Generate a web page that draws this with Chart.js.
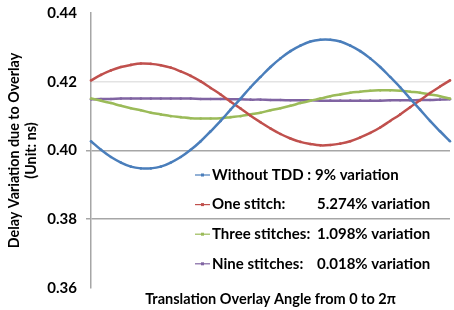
<!DOCTYPE html>
<html><head><meta charset="utf-8">
<script src="https://cdn.jsdelivr.net/npm/chart.js@4/dist/chart.umd.min.js"></script>
<style>html,body{margin:0;padding:0;background:#fff}canvas{display:block}</style>
</head><body>
<canvas id="c" width="454" height="310"></canvas>
<script>
const angles = ['0','10','20','30','40','50','60','70','80','90','100','110','120','130','140','150','160','170','180','190','200','210','220','230','240','250','260','270','280','290','300','310','320','330','340','350','360'];
const withoutTDD = [0.4027,0.4002,0.3981,0.3965,0.3953,0.3948,0.3948,0.3953,0.3965,0.3981,0.4002,0.4027,0.4056,0.4086,0.4119,0.4151,0.4184,0.4214,0.4243,0.4268,0.4289,0.4305,0.4317,0.4322,0.4322,0.4317,0.4305,0.4289,0.4268,0.4243,0.4214,0.4184,0.4151,0.4119,0.4086,0.4056,0.4027];
const oneStitch = [0.4204,0.4220,0.4233,0.4243,0.4249,0.4253,0.4252,0.4248,0.4241,0.4230,0.4217,0.4201,0.4182,0.4163,0.4142,0.4122,0.4101,0.4082,0.4064,0.4048,0.4035,0.4025,0.4019,0.4015,0.4016,0.4020,0.4027,0.4038,0.4051,0.4067,0.4086,0.4105,0.4126,0.4146,0.4167,0.4186,0.4204];
const threeStitches = [0.4151,0.4145,0.4138,0.4130,0.4123,0.4117,0.4110,0.4105,0.4100,0.4097,0.4094,0.4093,0.4093,0.4094,0.4097,0.4100,0.4105,0.4110,0.4117,0.4123,0.4130,0.4138,0.4145,0.4151,0.4158,0.4163,0.4168,0.4171,0.4174,0.4175,0.4175,0.4174,0.4171,0.4168,0.4163,0.4158,0.4151];
const nineStitches = [0.4149,0.4150,0.4150,0.4151,0.4151,0.4151,0.4151,0.4151,0.4151,0.4151,0.4151,0.4150,0.4150,0.4150,0.4149,0.4149,0.4148,0.4148,0.4147,0.4147,0.4146,0.4146,0.4146,0.4145,0.4145,0.4145,0.4145,0.4145,0.4145,0.4145,0.4146,0.4146,0.4146,0.4147,0.4147,0.4148,0.4149];
const seriesNames = ['Without TDD :','One stitch:','Three stitches:','Nine stitches:'];
const variations = ['9% variation','5.274% variation','1.098% variation','0.018% variation'];
const yTicks = [0.36,0.38,0.40,0.42,0.44];
const colors = ['#4a7ebb','#c0504d','#9bbb59','#8064a2'];
const FONT = 'Lato';

const insideLegend = {
  id: 'insideLegend',
  afterDatasetsDraw(chart) {
    const {ctx, chartArea} = chart;
    ctx.save();
    chart.data.datasets.forEach((ds, i) => {
      const y = chartArea.top + 162 + i * 29.6;
      const x0 = chartArea.left + 104;
      ctx.strokeStyle = ds.borderColor;
      ctx.lineWidth = 1.2;
      ctx.beginPath(); ctx.moveTo(x0, y); ctx.lineTo(x0 + 15, y); ctx.stroke();
      ctx.fillStyle = ds.borderColor;
      ctx.fillRect(x0 + 6, y - 1.5, 3, 3);
      ctx.fillStyle = '#000';
      ctx.font = 'bold 15px ' + FONT;
      ctx.textBaseline = 'middle';
      ctx.textAlign = 'left';
      ctx.fillText(seriesNames[i], x0 + 17, y);
      ctx.fillText(variations[i], chartArea.left + (i === 0 ? 224 : 226), y);
    });
    ctx.restore();
  }
};

const mk = (label, data, i) => ({
  label, data,
  borderColor: colors[i], backgroundColor: colors[i],
  borderWidth: 2.5, pointRadius: 1.3, pointBorderWidth: 0,
  pointBackgroundColor: colors[i], tension: 0.4, fill: false
});

new Chart(document.getElementById('c'), {
  type: 'line',
  data: {
    labels: angles,
    datasets: [
      mk(seriesNames[0], withoutTDD, 0),
      mk(seriesNames[1], oneStitch, 1),
      mk(seriesNames[2], threeStitches, 2),
      mk(seriesNames[3], nineStitches, 3)
    ]
  },
  options: {
    responsive: false, animation: false, devicePixelRatio: 1,
    layout: { padding: { top: 0, right: 0, left: 5, bottom: 2 } },
    plugins: { legend: { display: false }, tooltip: { enabled: false } },
    scales: {
      x: {
        type: 'category', offset: false,
        grid: { display: false }, border: { display: false },
        ticks: { display: false },
        title: { display: true, text: 'Translation Overlay Angle from 0 to 2π', color: '#000',
                 font: { family: FONT, weight: 'bold', size: 14.5 }, padding: { top: 0, bottom: 0 } },
        afterFit: s => { s.height = 20; }
      },
      y: {
        min: 0.36, max: 0.44,
        afterBuildTicks: s => { s.ticks = yTicks.map(v => ({ value: v })); },
        ticks: { callback: v => Number(v).toFixed(2), color: '#000',
                 font: { family: FONT, weight: 'bold', size: 15 }, padding: 9 },
        grid: {
          color: c => { const v = c.tick ? c.tick.value : 0;
            if (Math.abs(v - 0.42) < 1e-6) return '#e3e3e3';
            if (Math.abs(v - 0.40) < 1e-6 || Math.abs(v - 0.38) < 1e-6) return '#a6a6a6';
            return 'rgba(0,0,0,0)'; },
          tickColor: c => { const v = c.tick ? c.tick.value : 0;
            if (Math.abs(v - 0.40) < 1e-6 || Math.abs(v - 0.38) < 1e-6) return '#a6a6a6';
            return 'rgba(0,0,0,0)'; },
          tickLength: 5, lineWidth: 1.5
        },
        border: { display: true, color: '#a6a6a6', width: 1.5 },
        title: { display: true, text: ['Delay Variation due to Overlay', '(Unit: ns)'], color: '#000',
                 font: { family: FONT, weight: 'bold', size: 14.3 }, padding: { top: 1, bottom: 0 } },
        afterFit: s => { s.width = 86; s.paddingTop = 13; }
      }
    }
  },
  plugins: [insideLegend]
});
</script>
</body></html>
